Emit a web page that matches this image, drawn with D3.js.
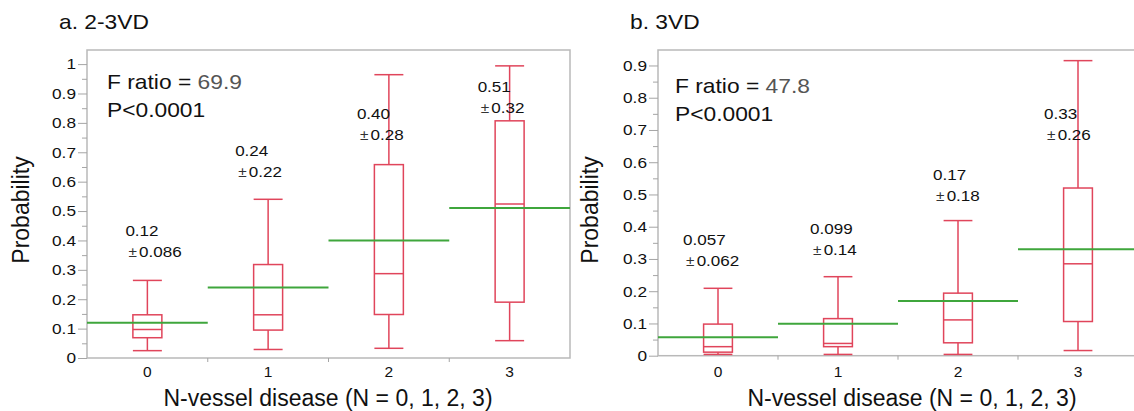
<!DOCTYPE html>
<html>
<head>
<meta charset="utf-8">
<script src="https://cdn.jsdelivr.net/npm/d3@7"></script>
<style>
  body { margin: 0; background: #fff; }
  svg text { font-family: "Liberation Sans", Arial, Helvetica, sans-serif; fill: #111; }
</style>
</head>
<body>
<svg id="chart" width="1134" height="411"></svg>
<script>
////////////////////////////////////////////////////////////////////////
//
// Data
//
////////////////////////////////////////////////////////////////////////
var categories = ["0", "1", "2", "3"];

// a. 2-3VD
var aWhiskerLow  = [0.025, 0.029, 0.033, 0.059];
var aQ1          = [0.069, 0.095, 0.148, 0.190];
var aMedian      = [0.097, 0.147, 0.287, 0.524];
var aQ3          = [0.147, 0.318, 0.658, 0.807];
var aWhiskerHigh = [0.264, 0.540, 0.964, 0.994];
var aMean        = [0.12, 0.24, 0.40, 0.51];
var aMeanText    = ["0.12", "0.24", "0.40", "0.51"];
var aSdText      = ["0.086", "0.22", "0.28", "0.32"];
var aTicks       = [0, 0.1, 0.2, 0.3, 0.4, 0.5, 0.6, 0.7, 0.8, 0.9, 1];

// b. 3VD
var bWhiskerLow  = [0.004, 0.004, 0.004, 0.016];
var bQ1          = [0.011, 0.028, 0.040, 0.106];
var bMedian      = [0.028, 0.038, 0.111, 0.285];
var bQ3          = [0.098, 0.115, 0.194, 0.520];
var bWhiskerHigh = [0.209, 0.245, 0.419, 0.915];
var bMean        = [0.057, 0.099, 0.17, 0.33];
var bMeanText    = ["0.057", "0.099", "0.17", "0.33"];
var bSdText      = ["0.062", "0.14", "0.18", "0.26"];
var bTicks       = [0, 0.1, 0.2, 0.3, 0.4, 0.5, 0.6, 0.7, 0.8, 0.9];

var boxColor   = "#e0455b";
var meanColor  = "#3fa63c";
var frameColor = "#b9b9b9";
var tickColor  = "#a5a5a5";

var svg = d3.select("#chart");


////////////////////////////////////////////////////////////////////////
//
// Put a piece of text, slightly widened like the original
//
////////////////////////////////////////////////////////////////////////
function addText(g, x, y, str, size, sx, anchor)
    {
    return g.append("text")
        .attr("transform", "translate(" + x + "," + y + ") scale(" + sx + ",1)")
        .attr("font-size", size)
        .attr("text-anchor", anchor || "start")
        .text(str);
    }


////////////////////////////////////////////////////////////////////////
//
// Draw one box plot panel
//
////////////////////////////////////////////////////////////////////////
function drawPanel(p)
    {
    var g = svg.append("g");

    var x = d3.scaleBand().domain(categories).range([p.left, p.right]).padding(0);
    var y = d3.scaleLinear().domain([0, p.yMax]).range([p.bottom, p.top]);

    var boxW = x.bandwidth() * 0.24;

    //Frame
    g.append("rect")
        .attr("x", p.left).attr("y", p.top)
        .attr("width", p.right - p.left).attr("height", p.bottom - p.top)
        .attr("fill", "none").attr("stroke", frameColor).attr("stroke-width", 1.5);

    //Y axis, major + minor ticks
    var minor = p.ticks.slice(0, -1).map(function(t) { return +(t + 0.05).toFixed(2); });
    if (p.ticks[p.ticks.length - 1] + 0.05 <= p.yMax) minor.push(+(p.ticks[p.ticks.length - 1] + 0.05).toFixed(2));

    var yMinor = g.append("g").attr("transform", "translate(" + p.left + ",0)")
        .call(d3.axisLeft(y).tickValues(minor).tickSize(5).tickFormat(""));
    yMinor.select(".domain").remove();
    yMinor.selectAll("line").attr("stroke", tickColor);

    var yMajor = g.append("g").attr("transform", "translate(" + p.left + ",0)")
        .call(d3.axisLeft(y).tickValues(p.ticks).tickSize(9).tickPadding(2)
            .tickFormat(function(d) { return String(+d.toFixed(1)); }));
    yMajor.select(".domain").remove();
    yMajor.selectAll("line").attr("stroke", tickColor);
    yMajor.selectAll("text")
        .attr("font-size", 15)
        .attr("x", -11 / 1.15)
        .attr("transform", "scale(1.15,1)")
        .style("fill", "#111");

    //X axis labels at the centre of each band
    var xAxis = g.append("g").attr("transform", "translate(0," + p.bottom + ")")
        .call(d3.axisBottom(x).tickSize(0).tickPadding(p.xPad));
    xAxis.select(".domain").remove();
    xAxis.selectAll("text").attr("font-size", 15.5).style("fill", "#111");

    //little ticks between the groups
    g.selectAll(".sep")
        .data(categories.slice(1))
        .enter().append("line")
        .attr("x1", function(d) { return x(d); }).attr("x2", function(d) { return x(d); })
        .attr("y1", p.bottom).attr("y2", p.bottom + 4)
        .attr("stroke", tickColor).attr("stroke-width", 1);

    //Boxes
    var rows = categories.map(function(c, i)
        {
        return {cat: c, lo: p.low[i], q1: p.q1[i], med: p.median[i], q3: p.q3[i], hi: p.high[i], mean: p.mean[i]};
        });

    var box = g.selectAll(".box").data(rows).enter().append("g")
        .attr("fill", "none").attr("stroke", boxColor).attr("stroke-width", 1.5);

    function cx(d) { return x(d.cat) + x.bandwidth() / 2; }

    box.append("line")
        .attr("x1", cx).attr("x2", cx)
        .attr("y1", function(d) { return y(d.q3); }).attr("y2", function(d) { return y(d.hi); });
    box.append("line")
        .attr("x1", cx).attr("x2", cx)
        .attr("y1", function(d) { return y(d.q1); }).attr("y2", function(d) { return y(d.lo); });
    box.append("line")
        .attr("x1", function(d) { return cx(d) - boxW / 2; }).attr("x2", function(d) { return cx(d) + boxW / 2; })
        .attr("y1", function(d) { return y(d.hi); }).attr("y2", function(d) { return y(d.hi); });
    box.append("line")
        .attr("x1", function(d) { return cx(d) - boxW / 2; }).attr("x2", function(d) { return cx(d) + boxW / 2; })
        .attr("y1", function(d) { return y(d.lo); }).attr("y2", function(d) { return y(d.lo); });
    box.append("rect")
        .attr("x", function(d) { return cx(d) - boxW / 2; })
        .attr("y", function(d) { return y(d.q3); })
        .attr("width", boxW)
        .attr("height", function(d) { return y(d.q1) - y(d.q3); });
    box.append("line")
        .attr("x1", function(d) { return cx(d) - boxW / 2; }).attr("x2", function(d) { return cx(d) + boxW / 2; })
        .attr("y1", function(d) { return y(d.med); }).attr("y2", function(d) { return y(d.med); });

    //Mean lines across whole group
    g.selectAll(".mean").data(rows).enter().append("line")
        .attr("x1", function(d) { return x(d.cat); })
        .attr("x2", function(d) { return x(d.cat) + x.bandwidth(); })
        .attr("y1", function(d) { return y(d.mean); }).attr("y2", function(d) { return y(d.mean); })
        .attr("stroke", meanColor).attr("stroke-width", 2);

    //Mean +- SD labels
    categories.forEach(function(c, i)
        {
        var lx = x(c) + x.bandwidth() / 2 + p.labelDx[i];
        addText(g, lx, p.labelY[i], p.meanText[i], 15.5, 1.1);
        var sd = addText(g, lx + 3, p.labelY[i] + 21, "", 15.5, 1.1);
        sd.append("tspan").attr("font-size", 14).style("fill", "#333").text("\u00b1");
        sd.append("tspan").attr("dx", 2).text(p.sdText[i]);
        });

    //F ratio
    var f = g.append("text")
        .attr("transform", "translate(" + p.fx + "," + p.fy + ") scale(1.14,1)")
        .attr("font-size", 20);
    f.append("tspan").text("F ratio = ");
    f.append("tspan").text(p.fRatio).style("fill", "#555");
    addText(g, p.fx, p.fy + 28, "P<0.0001", 20, 1.14);

    //Titles
    addText(g, p.titleX, 29, p.title, 20, 1.14);

    g.append("text")
        .attr("transform", "translate(" + p.yLabelX + "," + 210 + ") rotate(-90)")
        .attr("text-anchor", "middle")
        .attr("font-size", 23)
        .text("Probability");

    g.append("text")
        .attr("x", p.xTitleX).attr("y", 406)
        .attr("text-anchor", "middle")
        .attr("font-size", 23)
        .text("N-vessel disease (N = 0, 1, 2, 3)");
    }


drawPanel({
    left: 87, right: 570, top: 50, bottom: 358, yMax: 1.048, xPad: 8,
    ticks: aTicks,
    low: aWhiskerLow, q1: aQ1, median: aMedian, q3: aQ3, high: aWhiskerHigh, mean: aMean,
    meanText: aMeanText, sdText: aSdText,
    labelDx: [-22, -33, -32, -32], labelY: [236, 156, 119, 92],
    fx: 107, fy: 89, fRatio: "69.9",
    title: "a. 2-3VD", titleX: 59,
    yLabelX: 29, xTitleX: 328
    });

drawPanel({
    left: 658, right: 1138, top: 50, bottom: 355.7, yMax: 0.948, xPad: 10,
    ticks: bTicks,
    low: bWhiskerLow, q1: bQ1, median: bMedian, q3: bQ3, high: bWhiskerHigh, mean: bMean,
    meanText: bMeanText, sdText: bSdText,
    labelDx: [-35, -28, -25, -34], labelY: [245, 234, 180, 119],
    fx: 675, fy: 93, fRatio: "47.8",
    title: "b. 3VD", titleX: 630,
    yLabelX: 598, xTitleX: 912
    });
</script>
</body>
</html>
